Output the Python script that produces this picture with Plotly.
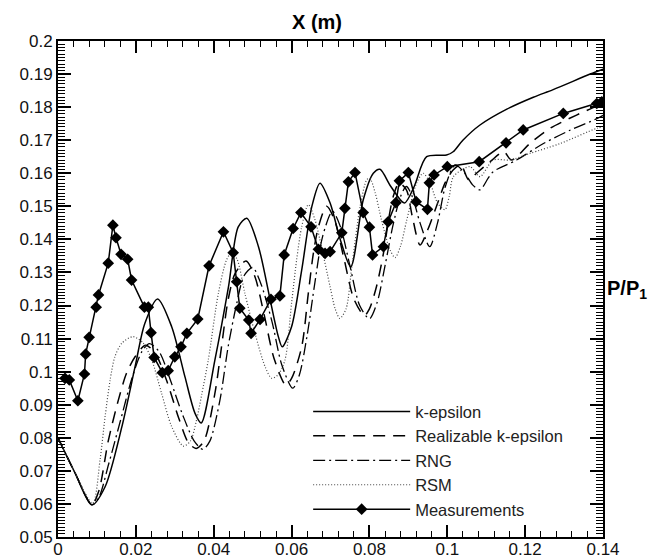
import plotly.graph_objects as go

# ---- data -------------------------------------------------------------
# k-epsilon model
ke_x = [0.0, 0.0044, 0.0087, 0.0121, 0.0164, 0.0198, 0.0223, 0.0256, 0.0292, 0.0326,
        0.0352, 0.0368, 0.0403, 0.0438, 0.0463, 0.0485, 0.0515, 0.0545, 0.0566, 0.0576,
        0.0600, 0.0626, 0.0652, 0.0673, 0.0699, 0.0725, 0.0752, 0.0784, 0.0810, 0.0827,
        0.0855, 0.0890, 0.0915, 0.0947, 0.0998, 0.1015, 0.1040, 0.1084, 0.1153, 0.1221,
        0.1272, 0.1367, 0.1400]
ke_y = [0.0800, 0.0693, 0.0597, 0.0652, 0.0833, 0.1015, 0.1146, 0.1220, 0.1136, 0.0985,
        0.0874, 0.0845, 0.1035, 0.1257, 0.1438, 0.1464, 0.1378, 0.1217, 0.1106, 0.1075,
        0.1136, 0.1307, 0.1499, 0.1570, 0.1510, 0.1400, 0.1317, 0.1519, 0.1600, 0.1612,
        0.1560, 0.1510, 0.1560, 0.1650, 0.1655, 0.1665, 0.1700, 0.1746, 0.1794, 0.1830,
        0.1853, 0.1900, 0.1915]

# Realizable k-epsilon model
real_x = [0.0, 0.0044, 0.0087, 0.0105, 0.0129, 0.0155, 0.0176, 0.0198, 0.0225, 0.0250,
          0.0280, 0.0310, 0.0335, 0.0355, 0.0375, 0.0403, 0.0420, 0.0437, 0.0455, 0.0483,
          0.0505, 0.0530, 0.0555, 0.0585, 0.0600, 0.0626, 0.0643, 0.0656, 0.0669, 0.0690,
          0.0710, 0.0735, 0.0760, 0.0787, 0.0800, 0.0818, 0.0836, 0.0849, 0.0861, 0.0876,
          0.0895, 0.0910, 0.0930, 0.0950, 0.0981, 0.0994, 0.1015, 0.1035, 0.1055, 0.1075,
          0.1110, 0.1145, 0.1165, 0.1212, 0.1264, 0.1332, 0.1384, 0.1400]
real_y = [0.0800, 0.0693, 0.0598, 0.0640, 0.0790, 0.0914, 0.0995, 0.1045, 0.1080, 0.1055,
          0.0970, 0.0860, 0.0785, 0.0768, 0.0790, 0.0934, 0.1075, 0.1217, 0.1297, 0.1335,
          0.1290, 0.1170, 0.1040, 0.0960, 0.0980, 0.1075, 0.1237, 0.1358, 0.1438, 0.1500,
          0.1460, 0.1340, 0.1220, 0.1170, 0.1190, 0.1257, 0.1358, 0.1459, 0.1529, 0.1570,
          0.1550, 0.1470, 0.1383, 0.1430, 0.1529, 0.1570, 0.1610, 0.1625, 0.1580, 0.1600,
          0.1635, 0.1665, 0.1640, 0.1690, 0.1736, 0.1776, 0.1803, 0.1810]

# RNG model
rng_x = [0.0, 0.0044, 0.0087, 0.0105, 0.0130, 0.0160, 0.0190, 0.0215, 0.0235, 0.0260,
         0.0290, 0.0320, 0.0350, 0.0372, 0.0390, 0.0416, 0.0437, 0.0458, 0.0478, 0.0500,
         0.0520, 0.0550, 0.0575, 0.0603, 0.0620, 0.0640, 0.0660, 0.0680, 0.0705, 0.0725,
         0.0750, 0.0775, 0.0800, 0.0820, 0.0840, 0.0860, 0.0880, 0.0895, 0.0910, 0.0930,
         0.0955, 0.0975, 0.0995, 0.1020, 0.1045, 0.1065, 0.1084, 0.1105, 0.1118, 0.1178,
         0.1247, 0.1315, 0.1384, 0.1400]
rng_y = [0.0800, 0.0693, 0.0598, 0.0620, 0.0720, 0.0850, 0.0980, 0.1060, 0.1085, 0.1060,
         0.0970, 0.0870, 0.0790, 0.0765, 0.0790, 0.0914, 0.1075, 0.1200, 0.1290, 0.1315,
         0.1270, 0.1150, 0.1020, 0.0950, 0.0990, 0.1110, 0.1270, 0.1410, 0.1485, 0.1440,
         0.1320, 0.1200, 0.1160, 0.1210, 0.1320, 0.1440, 0.1530, 0.1560, 0.1530, 0.1450,
         0.1378, 0.1450, 0.1560, 0.1625, 0.1600, 0.1565, 0.1550, 0.1585, 0.1605, 0.1640,
         0.1690, 0.1730, 0.1765, 0.1775]

# RSM model
rsm_x = [0.0, 0.0044, 0.0089, 0.0108, 0.0121, 0.0134, 0.0146, 0.0164, 0.0193, 0.0219,
         0.0241, 0.0266, 0.0292, 0.0322, 0.0340, 0.0356, 0.0369, 0.0386, 0.0412, 0.0433,
         0.0446, 0.0460, 0.0480, 0.0506, 0.0532, 0.0549, 0.0565, 0.0583, 0.0600, 0.0613,
         0.0626, 0.0643, 0.0660, 0.0673, 0.0699, 0.0712, 0.0724, 0.0740, 0.0755, 0.0776,
         0.0793, 0.0801, 0.0815, 0.0831, 0.0853, 0.0866, 0.0880, 0.0896, 0.0921, 0.0938,
         0.0956, 0.0975, 0.0994, 0.1005, 0.1016, 0.1058, 0.1084, 0.1118, 0.1161, 0.1212,
         0.1290, 0.1384, 0.1400]
rsm_y = [0.0800, 0.0693, 0.0602, 0.0733, 0.0864, 0.0975, 0.1045, 0.1086, 0.1106, 0.1086,
         0.1035, 0.0935, 0.0834, 0.0775, 0.0790, 0.0854, 0.0930, 0.1035, 0.1237, 0.1338,
         0.1360, 0.1340, 0.1237, 0.1116, 0.1015, 0.0980, 0.0990, 0.1035, 0.1207, 0.1338,
         0.1438, 0.1505, 0.1460, 0.1398, 0.1257, 0.1190, 0.1161, 0.1190, 0.1320, 0.1499,
         0.1580, 0.1585, 0.1540, 0.1459, 0.1368, 0.1345, 0.1380, 0.1459, 0.1570, 0.1600,
         0.1570, 0.1510, 0.1490, 0.1530, 0.1590, 0.1620, 0.1590, 0.1640, 0.1640, 0.1660,
         0.1690, 0.1736, 0.1740]

# Measurements
meas_x = [0.0018, 0.0029, 0.0051, 0.0068, 0.0071, 0.0080, 0.0098, 0.0104, 0.0129, 0.0141,
          0.0149, 0.0162, 0.0179, 0.0189, 0.0222, 0.0232, 0.0239, 0.0247, 0.0268, 0.0283,
          0.0300, 0.0316, 0.0331, 0.0359, 0.0388, 0.0425, 0.0450, 0.0459, 0.0467, 0.0490,
          0.0496, 0.0519, 0.0547, 0.0570, 0.0581, 0.0604, 0.0624, 0.0650, 0.0669, 0.0686,
          0.0699, 0.0729, 0.0737, 0.0746, 0.0763, 0.0784, 0.0800, 0.0808, 0.0836, 0.0848,
          0.0868, 0.0877, 0.0900, 0.0920, 0.0949, 0.0954, 0.0966, 0.1000, 0.1082, 0.1151,
          0.1195, 0.1298, 0.1384, 0.1397]
meas_y = [0.0980, 0.0975, 0.0912, 0.0993, 0.1053, 0.1104, 0.1195, 0.1232, 0.1328, 0.1443,
          0.1405, 0.1355, 0.1340, 0.1277, 0.1195, 0.1195, 0.1118, 0.1043, 0.0997, 0.1003,
          0.1045, 0.1075, 0.1116, 0.1159, 0.1320, 0.1423, 0.1360, 0.1272, 0.1192, 0.1156,
          0.1116, 0.1158, 0.1219, 0.1229, 0.1353, 0.1433, 0.1481, 0.1438, 0.1370, 0.1358,
          0.1363, 0.1420, 0.1494, 0.1574, 0.1602, 0.1481, 0.1437, 0.1353, 0.1378, 0.1453,
          0.1511, 0.1577, 0.1602, 0.1514, 0.1491, 0.1571, 0.1595, 0.1620, 0.1635, 0.1692,
          0.1731, 0.1781, 0.1811, 0.1816]

FONT = "Liberation Sans, Arial, Helvetica, sans-serif"

fig = go.Figure()

fig.add_trace(go.Scatter(x=ke_x, y=ke_y, mode="lines", name="k-epsilon",
                         line=dict(color="black", width=1.5, shape="spline", smoothing=0.8)))
fig.add_trace(go.Scatter(x=real_x, y=real_y, mode="lines", name="Realizable k-epsilon",
                         line=dict(color="black", width=1.5, dash="12px,8px",
                                   shape="spline", smoothing=0.8)))
fig.add_trace(go.Scatter(x=rng_x, y=rng_y, mode="lines", name="RNG",
                         line=dict(color="black", width=1.3, dash="12px,4px,2px,4px",
                                   shape="spline", smoothing=0.8)))
fig.add_trace(go.Scatter(x=rsm_x, y=rsm_y, mode="lines", name="RSM",
                         line=dict(color="#444444", width=1.2, dash="1px,2px",
                                   shape="spline", smoothing=0.8)))
fig.add_trace(go.Scatter(x=meas_x, y=meas_y, mode="lines+markers", name="Measurements",
                         line=dict(color="black", width=1.5),
                         marker=dict(symbol="diamond", size=9, color="black")))

axis_common = dict(
    showline=True, linecolor="black", linewidth=2, mirror="allticks",
    ticks="inside", tickcolor="black", tickwidth=1.5,
    showgrid=False, zeroline=False, automargin=False,
    tickfont=dict(family=FONT, size=17, color="#111111"),
)

fig.update_xaxes(range=[0, 0.14], tick0=0, dtick=0.02, ticklen=12,
                 ticklabelstandoff=-4,
                 minor=dict(dtick=0.004, ticklen=6, tickwidth=1, ticks="inside",
                            tickcolor="black"),
                 **axis_common)
fig.update_yaxes(range=[0.05, 0.2], tick0=0.05, dtick=0.01, ticklen=13,
                 minor=dict(dtick=0.001, ticklen=7, tickwidth=1, ticks="inside",
                            tickcolor="black"),
                 **axis_common)

fig.add_annotation(text="<b>X (m)</b>", xref="paper", yref="paper", x=0.475, y=1,
                   xanchor="center", yanchor="bottom", yshift=6, showarrow=False,
                   font=dict(family=FONT, size=20, color="black"))
fig.add_annotation(text="<b>P/P<sub>1</sub></b>", xref="paper", yref="y", x=1, y=0.1250,
                   xanchor="left", yanchor="middle", xshift=2, showarrow=False,
                   font=dict(family=FONT, size=20, color="black"))

fig.update_layout(
    width=654, height=560,
    margin=dict(l=58, r=51, t=41, b=23),
    paper_bgcolor="white", plot_bgcolor="white",
    font=dict(family=FONT, color="#111111"),
    showlegend=True,
    legend=dict(x=0.459, y=0.288, xanchor="left", yanchor="top",
                bgcolor="rgba(0,0,0,0)", borderwidth=0,
                itemwidth=97,
                font=dict(family=FONT, size=16.5, color="#222222")),
)

fig.write_html("out.html")
